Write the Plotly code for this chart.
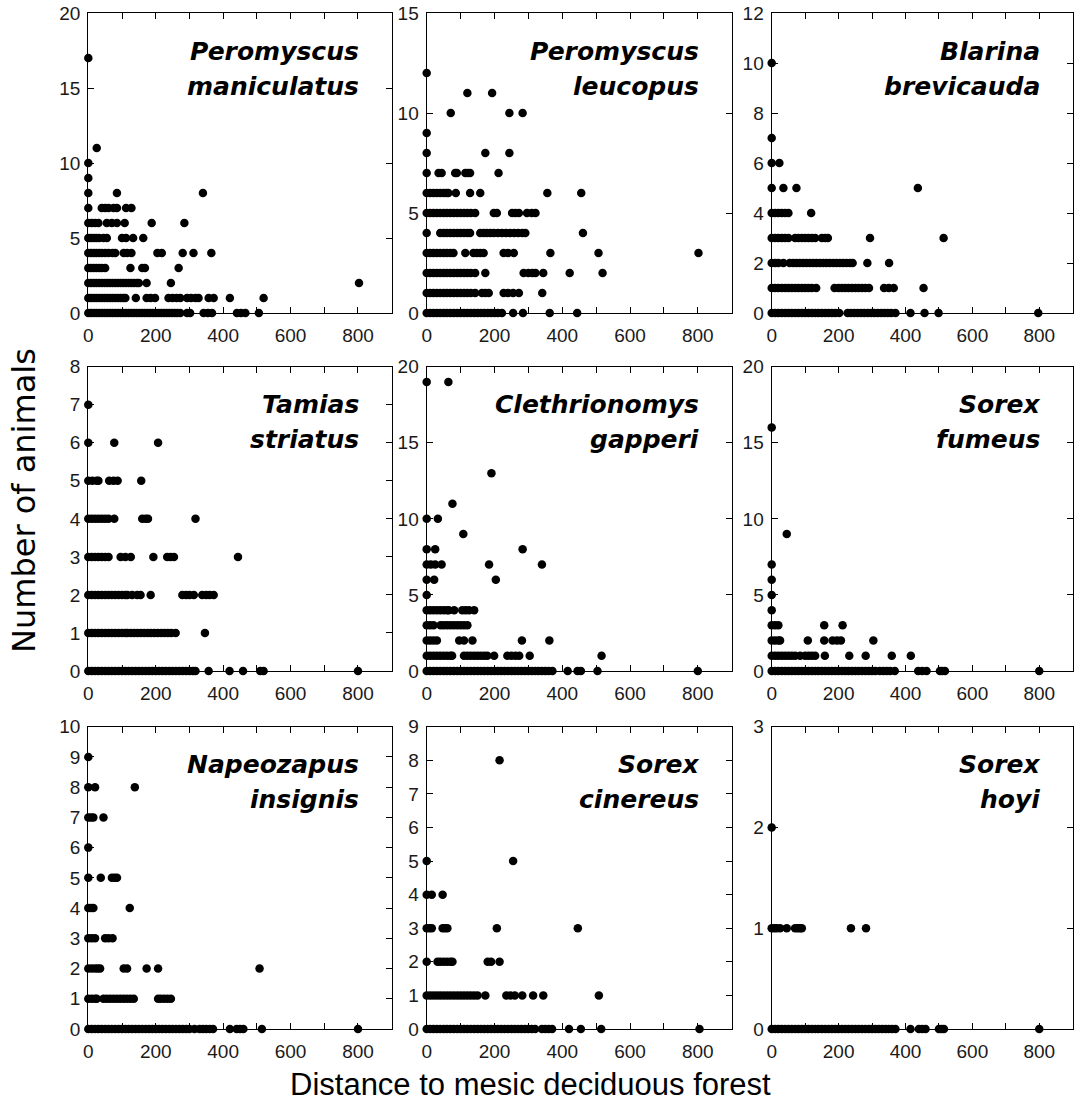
import plotly.graph_objects as go

# ---------------- data: {count: [distances]} per species ----------------
p_maniculatus = {
    17: [0],
    11: [25],
    10: [0],
    9: [0],
    8: [0, 85, 340],
    7: [0, 40, 50, 60, 75, 85, 112, 128],
    6: [0, 10, 20, 30, 55, 70, 85, 108, 188, 285],
    5: [0, 8, 16, 24, 32, 45, 55, 100, 112, 133, 163],
    4: [0, 8, 16, 24, 32, 40, 50, 60, 72, 80, 105, 115, 128, 205, 218, 280, 312, 365],
    3: [0, 8, 16, 24, 32, 40, 50, 125, 160, 168, 268],
    2: [0, 8, 16, 24, 32, 40, 48, 56, 64, 72, 80, 88, 96, 104, 112, 120, 128, 136, 144, 150, 173, 245, 803],
    1: [0, 8, 16, 24, 32, 40, 48, 56, 64, 72, 80, 88, 96, 104, 110, 141, 173, 185, 198, 238, 250, 262, 273,
        293, 305, 318, 327, 357, 372, 420, 520],
    0: [0, 8, 16, 24, 32, 40, 48, 56, 64, 72, 80, 88, 96, 104, 112, 120, 128, 136, 144, 152, 160, 168, 176,
        184, 192, 200, 208, 216, 224, 232, 240, 248, 256, 264, 273, 293, 302, 342, 355, 367, 441, 453, 466, 506],
}

p_leucopus = {
    12: [0],
    11: [120, 193],
    10: [71, 244, 283],
    9: [0],
    8: [0, 173, 244],
    7: [0, 35, 44, 84, 89, 114, 121, 128, 212],
    6: [0, 10, 20, 30, 40, 50, 58, 64, 86, 128, 158, 356, 456],
    5: [0, 10, 20, 30, 40, 50, 60, 70, 80, 90, 100, 110, 120, 130, 143, 198, 207, 252, 262, 272, 296, 310, 321],
    4: [0, 40, 50, 60, 70, 80, 90, 100, 110, 120, 128, 158, 168, 178, 188, 198, 210, 222, 234, 246, 258, 270,
        282, 291, 461],
    3: [0, 10, 20, 30, 40, 50, 60, 70, 79, 114, 138, 148, 158, 168, 227, 240, 257, 365, 507, 802],
    2: [0, 10, 20, 30, 40, 50, 60, 70, 80, 90, 100, 110, 120, 130, 143, 173, 286, 300, 312, 321, 344, 422, 519],
    1: [0, 10, 20, 30, 40, 50, 60, 70, 80, 90, 100, 110, 120, 130, 143, 163, 173, 183, 227, 240, 255, 272, 341],
    0: [0, 10, 20, 30, 40, 50, 60, 70, 80, 90, 100, 110, 120, 130, 140, 150, 160, 170, 180, 190, 200, 210, 222,
        255, 284, 363, 444],
}

b_brevicauda = {
    10: [0],
    7: [0],
    6: [0, 23],
    5: [0, 35, 74, 437],
    4: [0, 10, 20, 30, 40, 50, 118],
    3: [0, 10, 20, 30, 40, 50, 70, 80, 90, 100, 110, 120, 130, 150, 160, 168, 294, 514],
    2: [0, 10, 20, 35, 54, 64, 74, 84, 94, 104, 114, 124, 134, 144, 154, 164, 174, 184, 194, 204, 214, 224,
        234, 242, 286, 351],
    1: [0, 10, 20, 30, 40, 50, 60, 70, 80, 90, 100, 110, 120, 133, 188, 200, 210, 220, 230, 240, 250, 260,
        270, 280, 291, 336, 350, 365, 454],
    0: [0, 10, 20, 30, 40, 50, 60, 70, 80, 90, 100, 110, 120, 130, 140, 150, 160, 170, 180, 190, 202, 227,
        237, 247, 257, 267, 277, 287, 297, 307, 317, 327, 337, 347, 357, 370, 415, 457, 499, 797],
}

t_striatus = {
    7: [0],
    6: [0, 77, 207],
    5: [0, 12, 25, 30, 62, 75, 87, 157],
    4: [0, 10, 20, 30, 40, 50, 60, 77, 160, 170, 177, 318],
    3: [0, 10, 20, 30, 40, 50, 60, 96, 110, 126, 193, 234, 244, 254, 444],
    2: [0, 10, 20, 30, 40, 50, 60, 70, 80, 90, 100, 110, 116, 130, 145, 155, 185, 279, 290, 300, 313, 338,
        350, 360, 372],
    1: [0, 10, 20, 30, 40, 50, 60, 70, 80, 90, 100, 110, 116, 126, 136, 146, 156, 166, 176, 186, 196, 206,
        216, 226, 236, 246, 259, 346],
    0: [0, 10, 20, 30, 40, 50, 60, 70, 80, 90, 100, 110, 120, 130, 140, 150, 160, 170, 180, 190, 200, 210,
        220, 230, 240, 250, 260, 270, 280, 290, 300, 310, 318, 357, 419, 459, 510, 520, 800],
}

c_gapperi = {
    19: [0, 64],
    13: [191],
    11: [76],
    10: [0, 33],
    9: [108],
    8: [0, 25, 283],
    7: [0, 12, 25, 44, 184, 340],
    6: [0, 22, 204],
    5: [0],
    4: [0, 10, 20, 30, 40, 50, 60, 65, 81, 105, 115, 125, 140],
    3: [0, 10, 20, 41, 50, 60, 70, 80, 90, 100, 110, 120],
    2: [0, 10, 20, 30, 96, 110, 135, 281, 362],
    1: [0, 10, 20, 30, 40, 50, 60, 70, 75, 110, 120, 130, 140, 150, 160, 170, 179, 199, 238, 250, 262, 273,
        304, 516],
    0: [0, 10, 20, 30, 40, 50, 60, 70, 80, 90, 100, 110, 120, 130, 140, 150, 160, 170, 180, 190, 200, 210,
        220, 230, 240, 250, 260, 270, 280, 290, 300, 310, 320, 330, 340, 350, 360, 371, 416, 445, 455, 504, 800],
}

s_fumeus = {
    16: [0],
    9: [45],
    7: [0],
    6: [0],
    5: [0],
    4: [0],
    3: [0, 10, 20, 157, 212],
    2: [0, 10, 20, 25, 108, 157, 182, 195, 207, 304],
    1: [0, 10, 20, 30, 40, 50, 60, 70, 85, 100, 110, 120, 130, 159, 232, 281, 359, 416],
    0: [0, 10, 20, 30, 40, 50, 60, 70, 80, 90, 100, 110, 120, 130, 140, 150, 160, 170, 180, 190, 200, 210,
        220, 230, 240, 250, 260, 270, 280, 290, 300, 310, 323, 334, 344, 354, 368, 438, 450, 463, 503, 510,
        518, 800],
}

n_insignis = {
    9: [0],
    8: [0, 20, 138],
    7: [0, 8, 15, 45],
    6: [0],
    5: [0, 37, 70, 78, 85],
    4: [0, 8, 15, 123],
    3: [0, 10, 20, 50, 60, 72],
    2: [0, 10, 20, 28, 35, 105, 115, 173, 207, 508],
    1: [0, 10, 20, 25, 45, 55, 65, 75, 85, 95, 105, 115, 125, 135, 207, 215, 225, 235, 245],
    0: [0, 10, 20, 30, 40, 50, 60, 70, 80, 90, 100, 110, 120, 130, 140, 150, 160, 170, 180, 190, 200, 210,
        220, 230, 240, 250, 260, 270, 280, 290, 300, 315, 330, 340, 350, 360, 370, 420, 440, 450, 460, 515, 800],
}

s_cinereus = {
    8: [215],
    5: [0, 255],
    4: [0, 15, 47],
    3: [0, 8, 15, 47, 54, 61, 207, 446],
    2: [0, 32, 40, 50, 60, 70, 76, 180, 190, 215],
    1: [0, 10, 20, 30, 40, 50, 60, 70, 80, 90, 100, 110, 120, 130, 140, 150, 173, 235, 247, 260, 282, 314,
        344, 508],
    0: [0, 10, 20, 30, 40, 50, 60, 70, 80, 90, 100, 110, 120, 130, 140, 150, 160, 170, 180, 190, 200, 210,
        220, 230, 240, 250, 260, 270, 280, 290, 300, 310, 320, 340, 350, 360, 370, 420, 455, 515, 805],
}

s_hoyi = {
    2: [0],
    1: [0, 8, 15, 25, 45, 70, 78, 85, 90, 237, 282],
    0: [0, 10, 20, 30, 40, 50, 60, 70, 80, 90, 100, 110, 120, 130, 140, 150, 160, 170, 180, 190, 200, 210,
        220, 230, 240, 250, 260, 270, 280, 290, 300, 310, 320, 330, 340, 350, 360, 370, 415, 440, 450, 460,
        500, 508, 515, 800],
}

species_names = [
    ("Peromyscus", "maniculatus"), ("Peromyscus", "leucopus"), ("Blarina", "brevicauda"),
    ("Tamias", "striatus"), ("Clethrionomys", "gapperi"), ("Sorex", "fumeus"),
    ("Napeozapus", "insignis"), ("Sorex", "cinereus"), ("Sorex", "hoyi"),
]
species_data = [p_maniculatus, p_leucopus, b_brevicauda, t_striatus, c_gapperi,
                s_fumeus, n_insignis, s_cinereus, s_hoyi]
y_max = [20, 15, 12, 8, 20, 20, 10, 9, 3]
y_ticks = [
    [0, 5, 10, 15, 20], [0, 5, 10, 15], [0, 2, 4, 6, 8, 10, 12],
    [0, 1, 2, 3, 4, 5, 6, 7, 8], [0, 5, 10, 15, 20], [0, 5, 10, 15, 20],
    [0, 1, 2, 3, 4, 5, 6, 7, 8, 9, 10], [0, 1, 2, 3, 4, 5, 6, 7, 8, 9], [0, 1, 2, 3],
]
x_tickvals = [0, 100, 200, 300, 400, 500, 600, 700, 800]
x_ticktext = ["0", "", "200", "", "400", "", "600", "", "800"]
x_title = "Distance to mesic deciduous forest"
y_title = "Number of animals"

# ---------------- layout geometry (pixels) ----------------
W, H = 1077, 1107
col_px = [(88.3, 391.7), (426.7, 731.7), (771.7, 1072.7)]
row_px = [(13, 313), (366.7, 671), (726.7, 1029)]

fig = go.Figure()
tick_font = dict(family="Liberation Sans", size=19, color="#1a1a1a")
label_font = dict(family="DejaVu Sans", size=25, color="#000000")

annotations = []
for i, data in enumerate(species_data):
    r, c = divmod(i, 3)
    suffix = "" if i == 0 else str(i + 1)
    xs, ys = [], []
    for cnt, dists in data.items():
        for d in dists:
            xs.append(d)
            ys.append(cnt)
    fig.add_trace(go.Scatter(
        x=xs, y=ys, mode="markers", xaxis="x" + suffix, yaxis="y" + suffix,
        marker=dict(size=8.5, color="black", line=dict(width=0)),
        cliponaxis=False, showlegend=False, hoverinfo="x+y",
    ))
    x0, x1 = col_px[c]
    t0, t1 = row_px[r]
    axis_common = dict(
        showline=True, linecolor="black", linewidth=1.3, mirror="ticks",
        ticks="inside", ticklen=6, tickwidth=1.3, tickcolor="black",
        showgrid=False, zeroline=False, tickfont=tick_font, fixedrange=True,
        automargin=False,
    )
    fig.update_layout(**{
        "xaxis" + suffix: dict(
            domain=[x0 / W, x1 / W], anchor="y" + suffix, range=[0, 900],
            tickvals=x_tickvals, ticktext=x_ticktext, ticklabelstandoff=5, **axis_common),
        "yaxis" + suffix: dict(
            domain=[1 - t1 / H, 1 - t0 / H], anchor="x" + suffix, range=[0, y_max[i]],
            tickvals=y_ticks[i], ticklabelstandoff=3, **axis_common),
    })
    genus, sp = species_names[i]
    xr = (x1 - 31) / W
    for txt, off in ((genus, 38), (sp, 73)):
        annotations.append(dict(
            text="<b><i>%s</i></b>" % txt, xref="paper", yref="paper",
            x=xr, y=1 - (t0 + off) / H, xanchor="right", yanchor="middle",
            showarrow=False, font=label_font,
        ))

annotations.append(dict(
    text=x_title, xref="paper", yref="paper", x=530 / W, y=1 - 1084 / H,
    xanchor="center", yanchor="middle", showarrow=False,
    font=dict(family="Liberation Sans", size=31, color="#000000"),
))
annotations.append(dict(
    text=y_title, xref="paper", yref="paper", x=24 / W, y=1 - 501 / H,
    xanchor="center", yanchor="middle", showarrow=False, textangle=-90,
    font=dict(family="DejaVu Sans", size=32, color="#000000"),
))

fig.update_layout(
    template="none",
    width=W, height=H, margin=dict(l=0, r=0, t=0, b=0, autoexpand=False),
    paper_bgcolor="white", plot_bgcolor="white",
    annotations=annotations, showlegend=False,
)

fig.write_html(
    "out.html",
    config={"displayModeBar": False},
    post_script="document.body.style.margin='0';document.body.style.overflow='hidden';",
)
